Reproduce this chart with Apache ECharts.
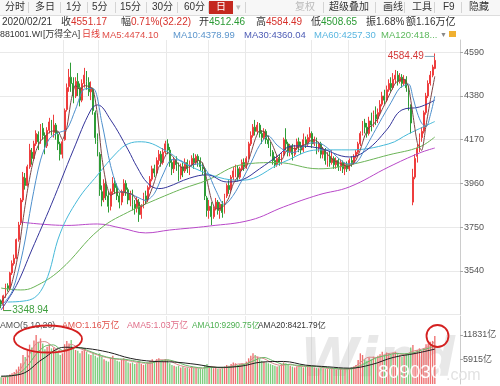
<!DOCTYPE html>
<html><head><meta charset="utf-8">
<script src="https://cdn.jsdelivr.net/npm/echarts@6/dist/echarts.min.js"></script>
<style>html,body{margin:0;padding:0;background:#fff}#c{width:500px;height:386px}</style>
</head><body><div id="c"></div>
<script>
// ---- data: [open, close, low, high] per trading day ----
const candles = [
[3395,3380,3360,3402],[3375,3420,3348.94,3425],[3420,3470,3410,3478],[3468,3455,3440,3480],[3458,3530,3450,3535],
[3530,3575,3520,3590],[3575,3600,3565,3618],[3600,3690,3595,3695],[3690,3760,3680,3775],[3770,3880,3760,3890],
[3880,3990,3870,4015],[3985,3950,3930,4010],[3950,4040,3945,4050],[4040,4120,4030,4150],[4110,4080,4050,4130],
[4080,4150,4075,4165],[4150,4200,4140,4215],[4195,4160,4120,4210],[4160,4230,4150,4245],[4225,4190,4170,4250],
[4190,4140,4100,4205],[4140,4215,4130,4230],[4215,4255,4200,4275],[4250,4210,4190,4265],[4205,4240,4180,4290],
[4240,4200,4170,4250],[4195,4150,4120,4210],[4150,4100,4070,4160],[4100,4160,4080,4170],[4170,4310,4165,4320],
[4315,4420,4305,4440],[4425,4470,4400,4510],[4470,4440,4400,4540],[4440,4380,4345,4470],[4380,4450,4370,4470],
[4450,4420,4380,4490],[4420,4360,4330,4440],[4360,4440,4350,4460],[4440,4480,4420,4515],[4480,4450,4410,4500],
[4445,4400,4380,4470],[4400,4420,4360,4450],[4410,4310,4290,4420],[4300,4180,4150,4310],[4160,4130,4090,4200],
[4100,3930,3900,4110],[3920,3880,3850,3950],[3890,3960,3870,3980],[3955,3900,3880,3975],[3900,3850,3820,3920],
[3850,3920,3830,3935],[3920,3960,3905,3990],[3960,3940,3910,3985],[3940,3900,3880,3960],[3900,3870,3840,3915],
[3870,3920,3855,3930],[3915,3960,3900,3980],[3960,3930,3900,3975],[3930,3880,3860,3940],[3880,3910,3850,3925],
[3910,3860,3830,3930],[3860,3840,3810,3880],[3840,3880,3820,3895],[3870,3810,3775,3885],[3810,3850,3790,3860],
[3850,3900,3840,3915],[3900,3880,3860,3925],[3880,3940,3870,3950],[3940,3980,3930,3995],[3980,4030,3970,4045],
[4030,4010,3990,4050],[4010,4070,4000,4085],[4070,4100,4050,4120],[4100,4060,4040,4115],[4060,4110,4050,4130],
[4110,4150,4100,4165],[4150,4120,4100,4172],[4120,4060,4040,4135],[4060,4030,4000,4075],[4030,4070,4010,4085],
[4070,4050,4020,4090],[4050,4000,3970,4060],[4000,4040,3980,4055],[4040,4020,3990,4060],[4020,4060,4010,4080],
[4060,4030,4010,4075],[4030,4050,4000,4070],[4050,4080,4040,4095],[4080,4060,4030,4105],[4060,4090,4050,4100],
[4090,4070,4040,4100],[4070,4040,4020,4085],[4040,4030,4000,4060],[4030,3900,3880,4040],[3890,3830,3800,3900],
[3830,3850,3790,3880],[3850,3800,3760,3870],[3800,3840,3790,3850],[3840,3870,3830,3890],[3870,3830,3810,3880],
[3830,3860,3790,3870],[3860,3820,3795,3875],[3820,3900,3815,3910],[3900,3950,3890,3960],[3950,3930,3910,3975],
[3930,3990,3920,4000],[3990,4020,3975,4040],[4020,4030,3990,4050],[4030,3990,3970,4045],[3990,4030,3980,4040],
[4030,4060,4020,4075],[4060,4040,4020,4080],[4040,4080,4030,4090],[4080,4150,4075,4160],[4150,4190,4140,4210],
[4190,4230,4180,4245],[4230,4210,4190,4265],[4210,4240,4195,4255],[4240,4200,4180,4250],[4200,4180,4150,4215],
[4180,4210,4170,4225],[4210,4170,4150,4220],[4170,4150,4130,4190],[4150,4110,4090,4160],[4110,4070,4050,4120],
[4070,4050,4035,4090],[4050,4080,4040,4095],[4080,4060,4045,4100],[4060,4100,4050,4110],[4100,4170,4090,4180],
[4170,4150,4120,4225],[4150,4110,4090,4160],[4110,4140,4090,4150],[4140,4100,4070,4150],[4100,4130,4090,4145],
[4130,4160,4120,4175],[4160,4140,4110,4180],[4140,4120,4100,4160],[4120,4170,4110,4200],[4170,4150,4130,4185],
[4150,4180,4140,4195],[4180,4200,4160,4230],[4200,4150,4130,4210],[4150,4170,4140,4185],[4170,4130,4100,4180],
[4130,4150,4110,4160],[4150,4100,4080,4160],[4100,4120,4080,4135],[4120,4070,4050,4130],[4070,4090,4040,4110],
[4090,4060,4040,4115],[4060,4080,4050,4120],[4080,4050,4030,4090],[4050,4070,4030,4085],[4070,4040,4020,4080],
[4040,4060,4020,4075],[4060,4030,4010,4070],[4030,4050,4000,4060],[4050,4030,4015,4065],[4030,4070,4020,4080],
[4070,4060,4040,4090],[4060,4090,4050,4100],[4090,4110,4080,4120],[4110,4150,4100,4160],[4150,4200,4140,4210],
[4200,4250,4190,4260],[4250,4230,4200,4270],[4230,4200,4180,4250],[4200,4260,4190,4280],[4260,4240,4210,4300],
[4240,4290,4230,4310],[4290,4270,4240,4330],[4270,4300,4250,4320],[4300,4340,4290,4360],[4340,4380,4330,4400],
[4380,4360,4340,4410],[4360,4410,4350,4430],[4410,4440,4400,4460],[4440,4420,4400,4470],[4420,4460,4410,4490],
[4460,4480,4440,4505],[4480,4450,4430,4500],[4450,4470,4440,4490],[4470,4440,4420,4485],[4440,4460,4430,4480],
[4460,4420,4400,4475],[4420,4330,4310,4430],[4330,4250,4200,4340],[3870,3990,3855,4030],[3990,4080,3980,4100],
[4090,4130,4060,4150],[4130,4180,4110,4200],[4180,4210,4160,4230],[4210,4300,4200,4310],[4300,4380,4290,4395],
[4380,4440,4370,4455],[4440,4480,4430,4500],[4480,4518.95,4470,4530],[4512.46,4551.17,4508.65,4584.49]
];
// turnover, 亿
const volumes = [
1600,1500,1900,1800,2300,2600,2900,3500,4200,5000,
7000,6500,8200,9500,8800,10500,11800,10200,11000,9800,
8400,9000,9600,8600,8800,8200,7600,7000,7400,9600,
10400,9800,10600,8600,8200,8000,7400,8000,8600,7800,
7200,7000,7600,6800,6400,7400,6600,6000,5600,5400,
6400,6800,6000,5600,5400,5800,6200,5600,5200,5000,
5200,4800,5000,5600,4800,4600,4800,5200,5600,6000,
5400,6000,6200,5400,5600,6000,5800,5000,4600,4400,
4200,4400,4000,4200,3900,4000,3800,4100,3900,4000,
3800,3700,3600,4600,4800,4000,4200,3800,3900,3700,
3600,3800,4200,4600,4400,4800,5200,5000,4600,4800,
5000,4800,5400,6200,6800,7400,7000,6600,6000,5600,
5400,5200,5000,4800,4600,4400,4200,4400,4800,5200,
5000,4600,4400,4200,4000,4200,4400,4100,4000,4300,
4500,4600,4200,4000,3900,3800,3900,3800,3700,3600,
3700,3800,3600,3500,3600,3700,3500,3600,3700,3800,
4000,4200,4600,5800,7400,7000,6000,5600,6400,6000,
6600,6200,6800,7200,7800,7000,7600,7400,7000,7600,
7800,7200,7000,6600,6800,7400,7200,8800,9400,7800,
8200,8600,8000,8700,9600,9800,10200,10400,11600
];
// moving averages: [day index, value]
const ma5 = [[0,3390],[4,3451],[6,3526],[8,3631],[10,3784],[12,3924],[14,4036],[16,4118],[18,4164],[20,4184],[22,4206],[24,4212],[26,4211],[28,4170],[30,4228],[32,4360],[34,4432],[36,4410],[38,4430],[40,4426],[42,4412],[44,4288],[46,4086],[48,3960],[50,3902],[52,3914],[54,3918],[56,3918],[58,3912],[60,3908],[62,3874],[64,3848],[66,3864],[68,3910],[70,3968],[72,4038],[74,4070],[76,4108],[78,4094],[80,4066],[82,4038],[84,4034],[86,4040],[88,4056],[90,4070],[92,4058],[94,3974],[96,3882],[98,3838],[100,3840],[102,3856],[104,3892],[106,3958],[108,3992],[110,4026],[112,4040],[114,4104],[116,4172],[118,4214],[120,4208],[122,4182],[124,4142],[126,4092],[128,4072],[130,4112],[132,4134],[134,4126],[136,4134],[138,4144],[140,4152],[142,4170],[144,4166],[146,4140],[148,4114],[150,4088],[152,4070],[154,4060],[156,4050],[158,4042],[160,4048],[162,4072],[164,4122],[166,4188],[168,4228],[170,4244],[172,4272],[174,4316],[176,4358],[178,4402],[180,4442],[182,4456],[184,4460],[186,4424],[188,4290],[190,4156],[192,4118],[194,4240],[196,4362],[198,4474.10]];
const ma10 = [[0,3370],[5,3440],[10,3636],[14,3872],[18,4072],[22,4174],[26,4203],[30,4220],[34,4316],[38,4413],[42,4416],[46,4252],[50,4045],[54,3925],[58,3914],[62,3895],[66,3878],[70,3912],[74,4005],[78,4074],[82,4070],[86,4046],[90,4054],[94,4018],[98,3927],[102,3858],[106,3903],[110,3976],[114,4057],[118,4143],[122,4188],[126,4144],[130,4115],[134,4109],[138,4137],[142,4155],[146,4151],[150,4121],[154,4081],[158,4054],[162,4059],[166,4124],[170,4200],[174,4276],[178,4348],[182,4418],[186,4437],[188,4374],[190,4299],[192,4249],[194,4232],[196,4290],[198,4378.99]];
const ma30 = [[0,3352],[7,3470],[14,3640],[23,3860],[33,4121],[41,4313],[44,4337],[50,4265],[58,4121],[62,4040],[67,3960],[72,3935],[76,3943],[86,3985],[94,4001],[103,3967],[110,3977],[118,4030],[126,4090],[133,4140],[145,4130],[159,4087],[167,4121],[176,4217],[183,4313],[191,4327],[198,4360.04]];
const ma60 = [[3,3390],[13,3400],[20,3480],[27,3721],[35,3881],[44,4000],[53,4110],[58,4150],[64,4160],[77,4106],[83,4060],[99,3990],[110,3975],[129,4063],[145,4121],[159,4121],[177,4150],[186,4198],[198,4257.30]];
const ma120 = [[0,3457],[9,3448],[15,3462],[27,3544],[45,3740],[60,3833],[68,3870],[77,3910],[83,3935],[94,3975],[110,4050],[126,4060],[145,4030],[159,4049],[177,4097],[191,4135],[198,4183]];
const ma250 = [[9,3774],[30,3758],[44,3765],[55,3745],[66,3722],[77,3736],[95,3755],[114,3784],[129,3847],[145,3905],[159,3943],[177,4039],[191,4106],[198,4130]];
const ama5 = [[0,1700],[4,1820],[8,3100],[12,6180],[16,9760],[20,10240],[24,8880],[28,7800],[32,9560],[36,8560],[40,7800],[44,7000],[48,6400],[52,6040],[56,5800],[60,5440],[64,5080],[68,5000],[72,5840],[76,5800],[80,4800],[84,4140],[88,3940],[92,3800],[96,4240],[100,3840],[104,4120],[108,4800],[112,4920],[116,6560],[120,6120],[124,5000],[128,4480],[132,4800],[136,4240],[140,4260],[144,4240],[148,3820],[152,3680],[156,3580],[160,3720],[164,5200],[168,6480],[172,6400],[176,7280],[180,7480],[184,7080],[188,7920],[192,8400],[196,9260],[198,10320]];
const ama10 = [[0,1800],[4,1900],[8,2500],[12,4340],[16,7180],[20,9120],[24,9440],[28,8100],[32,8580],[36,8780],[40,8000],[44,7200],[48,6550],[52,6120],[56,6000],[60,5670],[64,5290],[68,5050],[72,5520],[76,5825],[80,5325],[84,4570],[88,4120],[92,3875],[96,4045],[100,3995],[104,4010],[108,4400],[112,4860],[116,5780],[120,6410],[124,5650],[128,4840],[132,4650],[136,4495],[140,4280],[144,4245],[148,4010],[152,3765],[156,3640],[160,3660],[164,4450],[168,5490],[172,6450],[176,6890],[180,7340],[184,7290],[188,7510],[192,8150],[196,8780],[198,9290.75]];
const ama20 = [[0,1900],[9,2365],[19,6030],[29,8875],[39,8580],[49,7670],[59,6200],[69,5480],[79,5300],[89,4745],[99,4030],[109,4255],[119,5290],[129,5440],[139,4560],[149,4160],[159,3825],[169,4675],[179,6410],[189,7360],[198,8421.79]];
const priceTicks = [3540, 3750, 3960, 4170, 4380, 4590];
const volTicks = [5915, 11831];
const gridIdx = [29, 45, 76, 95, 112, 142, 159, 176];   // month separators
const SLOTS = 210;
const cats = Array.from({length: SLOTS}, (_, i) => String(i));

const FONT = '"Liberation Sans","Noto Sans CJK SC",sans-serif';
const UP = '#ee3d3d', DN = '#2e9c36';
const VUP = '#ee7070', VDN = '#7ccd7c';

function T(text, x, y, fill, size, z) {
  return {type:'text', z: z || 50, silent:true,
    style:{text, x, y, fill, font: (size||10) + 'px ' + FONT, verticalAlign:'middle'}};
}
function L(x1,y1,x2,y2,c,w){ return {type:'line', z:45, silent:true, shape:{x1,y1,x2,y2}, style:{stroke:c, lineWidth:w||1}}; }

const graphic = [
  {type:'rect', z:40, shape:{x:0,y:0,width:500,height:15}, style:{fill:'#f7f7f7'}},
  L(0,15.5,500,15.5,'#dddddd'),
  ...[28,60,87,115,146,177,208,245,323,375,404,434,461].map(x=>L(x+0.5,2,x+0.5,13,'#d4d4d4')),
  {type:'rect', z:44, shape:{x:209,y:1,width:24,height:13}, style:{fill:'#c4281f'}},
  T('分时',5,7.5,'#333'), T('多日',35,7.5,'#333'), T('1分',66,7.5,'#333'), T('5分',92,7.5,'#333'),
  T('15分',120,7.5,'#333'), T('30分',152,7.5,'#333'), T('60分',184,7.5,'#333'), T('日',216,7.5,'#fff'),
  T('▾',236,7.5,'#bbb',9), T('复权',295,7.5,'#bbb'), T('超级叠加',329,7.5,'#333'), T('画线',383,7.5,'#333'),
  T('工具',412,7.5,'#333'), T('F9',443,7.5,'#333'), T('隐藏',469,7.5,'#333'),
  T('2020/02/21',2,22,'#333'), T('收',61,22,'#333'), T('4551.17',71,22,'#d7322c'),
  T('幅',121,22,'#333'), T('0.71%(32.22)',131,22,'#d7322c'), T('开',199,22,'#333'), T('4512.46',209,22,'#2a9a34'),
  T('高',256,22,'#333'), T('4584.49',266,22,'#d7322c'), T('低',311,22,'#333'), T('4508.65',321,22,'#2a9a34'),
  T('振',366,22,'#333'), T('1.68%',376,22,'#333'), T('额',406,22,'#333'), T('1.16万亿',416,22,'#333'),
  T('881001.WI',0,35,'#333',8.8), T('[万得全A]',43,35,'#333',8.8), T('日线',82,35,'#e03a35',9),
  T('MA5:4474.10',102,35,'#e0504a',9.5), T('MA10:4378.99',173,35,'#5b95cc',9.5), T('MA30:4360.04',244,35,'#4d5cb5',9.5),
  T('MA60:4257.30',314,35,'#5ab6e0',9.5), T('MA120:418...',381,35,'#5cb85c',9.5), T('▼',440,35,'#888',7),
  {type:'rect', z:50, shape:{x:449,y:31,width:7,height:6}, style:{fill:'#f0b030'}},
  T('AMO(5,10,20)',0,326,'#555',8.8), T('AMO:1.16万亿',62,326,'#e0504a',8.8), T('AMA5:1.03万亿',127,326,'#e0708a',8.8),
  T('AMA10:9290.75亿',192,326,'#4caf50',8.3), T('AMA20:8421.79亿',258,326,'#333',8.3),
  {type:'text', z:1, silent:true, style:{text:'Wind', x:300, y:362, fill:'rgba(190,190,190,0.35)', font:'bold italic 54px "DejaVu Sans",sans-serif', verticalAlign:'middle'}},
  {type:'text', z:100, silent:true, style:{text:'809030', x:378, y:373, fill:'#ffffff', font:'19px "Liberation Sans",sans-serif', verticalAlign:'middle', shadowColor:'rgba(0,0,0,0.35)', shadowBlur:2}},
  {type:'text', z:100, silent:true, style:{text:'.com', x:446, y:376, fill:'#e2e2e2', font:'16px "Liberation Sans",sans-serif', verticalAlign:'middle', shadowColor:'rgba(0,0,0,0.25)', shadowBlur:2}},
  {type:'ellipse', z:100, silent:true, shape:{cx:48, cy:339, rx:34, ry:13.5}, style:{fill:'none', stroke:'#d42020', lineWidth:1.8}},
  {type:'ellipse', z:100, silent:true, shape:{cx:437.5, cy:336, rx:11, ry:11}, style:{fill:'none', stroke:'#d42020', lineWidth:1.8}}
];

function maLine(data, color, xi, yi, smooth) {
  return {type:'line', data, xAxisIndex:xi, yAxisIndex:yi, showSymbol:false, symbol:'none', silent:true,
    smooth: smooth, lineStyle:{color, width:1}, z:3};
}
const splitX = {show:true, interval:(i)=>gridIdx.includes(i), lineStyle:{color:'#e9e9e9'}};

const option = {
  animation:false,
  textStyle:{fontFamily:FONT},
  graphic,
  grid:[
    {left:0, right:40, top:40, bottom:71.5},
    {left:0, right:40, top:316, bottom:2}
  ],
  xAxis:[
    {type:'category', gridIndex:0, data:cats, boundaryGap:true, axisLine:{show:false}, axisTick:{show:false}, axisLabel:{show:false}, splitLine:splitX},
    {type:'category', gridIndex:1, data:cats, boundaryGap:true, axisLine:{show:false}, axisTick:{show:false}, axisLabel:{show:false}, splitLine:splitX}
  ],
  yAxis:[
    {type:'value', gridIndex:0, position:'right', min:3330, max:4649, interval:210,
      axisLine:{show:true, lineStyle:{color:'#cccccc'}}, axisTick:{show:true, length:3, lineStyle:{color:'#aaa'}},
      axisLabel:{color:'#555', fontSize:9, margin:4, showMinLabel:false, showMaxLabel:false,
        formatter:v=>priceTicks.includes(v)?String(v):''},
      splitLine:{show:true, lineStyle:{color:'#e9e9e9'}, showMaxLine:false}},
    {type:'value', gridIndex:1, position:'right', min:0, max:16415, interval:5915.5,
      axisLine:{show:true, lineStyle:{color:'#cccccc'}}, axisTick:{show:true, length:3, lineStyle:{color:'#aaa'}},
      axisLabel:{color:'#555', fontSize:9, margin:3, showMinLabel:false, showMaxLabel:false,
        formatter:v=>{const t=volTicks.find(t=>Math.abs(t-v)<1); return t? t+'亿' : '';}},
      splitLine:{show:false}}
  ],
  series:[
    {type:'candlestick', xAxisIndex:0, yAxisIndex:0, data:candles, barWidth:'62%', z:2,
      itemStyle:{color:UP, color0:DN, borderColor:UP, borderColor0:DN, borderWidth:1},
      markPoint:{animation:false, data:[
        {type:'max', valueDim:'highest', symbol:'rect', symbolSize:[10,1], symbolOffset:[-5,3], itemStyle:{color:'#7fa8bb'},
          label:{show:true, position:'left', distance:1, color:'#d43a3a', fontSize:10, formatter:p=>p.value.toFixed(2)}},
        {type:'min', valueDim:'lowest', symbol:'rect', symbolSize:[8,1], symbolOffset:[4,0], itemStyle:{color:'#3f9f3f'},
          label:{show:true, position:'right', distance:1, color:'#3f9f3f', fontSize:10, formatter:p=>p.value.toFixed(2)}}
      ]}},
    maLine(ma250,'#b848c8',0,0,0.4),
    maLine(ma120,'#6bb457',0,0,0.4),
    maLine(ma60,'#45b8d8',0,0,0.4),
    maLine(ma30,'#34349a',0,0,0.4),
    maLine(ma10,'#4d8fcc',0,0,0.3),
    maLine(ma5,'#7a4444',0,0,0.2),
    {type:'bar', xAxisIndex:1, yAxisIndex:1, barWidth:'62%', silent:true, z:2,
      data: volumes.map((v,i)=>({value:v, itemStyle:{color: candles[i][1]>=candles[i][0]?VUP:VDN}}))},
    maLine(ama5,'#d88a8a',1,1,0.3),
    maLine(ama10,'#69b869',1,1,0.3),
    maLine(ama20,'#1e1e1e',1,1,0.4)
  ]
};
const chart = echarts.init(document.getElementById('c'), null, {renderer:'canvas'});
chart.setOption(option);
</script>
</body></html>
